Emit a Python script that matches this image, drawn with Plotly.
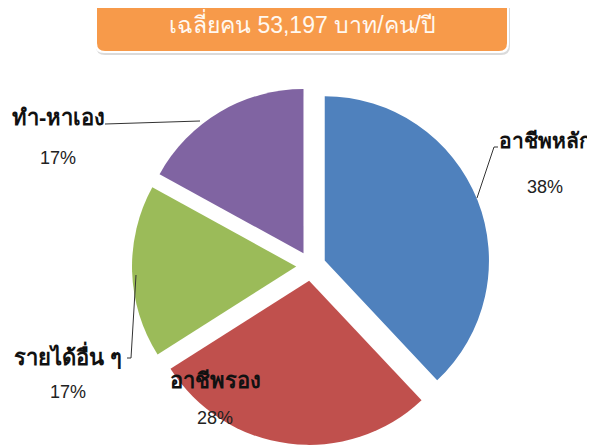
import plotly.graph_objects as go

categories = ["อาชีพหลัก", "อาชีพรอง", "รายได้อื่น ๆ", "ทำ-หาเอง"]
values = [38, 28, 17, 17]
colors = ["#4F81BD", "#C0504D", "#9BBB59", "#8064A2"]
title_text = "เฉลี่ยคน 53,197 บาท/คน/ปี"

W, H = 595, 445
OFF = 8  # page body margin
FONT = "Liberation Sans, Arial, Noto Sans, DejaVu Sans, sans-serif"

def px(x):
    return (x - OFF) / W

def py(y):
    return 1 - (y - OFF) / H

fig = go.Figure()
fig.add_trace(go.Pie(
    labels=categories,
    values=values,
    sort=False,
    direction="clockwise",
    rotation=0,
    pull=[0.09] * len(values),
    marker=dict(colors=colors, line=dict(width=0)),
    textinfo="none",
    hoverinfo="label+percent",
    showlegend=False,
    domain=dict(x=[px(131), px(491)], y=[py(445), py(87)]),
))

# label positions (pixel centres) for name and percent
label_pos = [(545, 140, 187), (215, 380, 418), (68, 355, 392), (58, 118, 158)]
label_size = [21, 22, 22, 22]
annotations = []
for cat, v, (lx, ly, pyy), fs in zip(categories, values, label_pos, label_size):
    annotations.append(dict(x=px(lx), y=py(ly), xref="paper", yref="paper",
                            text=f"<b>{cat}</b>", showarrow=False,
                            font=dict(family=FONT, size=fs, color="#111111"),
                            xanchor="center", yanchor="middle"))
    annotations.append(dict(x=px(lx), y=py(pyy), xref="paper", yref="paper",
                            text=f"{v}%", showarrow=False,
                            font=dict(family=FONT, size=18, color="#222222"),
                            xanchor="center", yanchor="middle"))

annotations.append(dict(x=px(302), y=py(24), xref="paper", yref="paper",
                        text=title_text, showarrow=False,
                        font=dict(family=FONT, size=23, color="#FFF8F0"),
                        xanchor="center", yanchor="middle"))

def rrect(x0, y0, x1, y1, r):
    X0, X1 = px(x0), px(x1)
    Y0, Y1 = py(y0), py(y1)
    rx, ry = r / W, r / H
    return (f"M {X0+rx},{Y0} L {X1-rx},{Y0} Q {X1},{Y0} {X1},{Y0-ry} "
            f"L {X1},{Y1+ry} Q {X1},{Y1} {X1-rx},{Y1} "
            f"L {X0+rx},{Y1} Q {X0},{Y1} {X0},{Y1+ry} "
            f"L {X0},{Y0-ry} Q {X0},{Y0} {X0+rx},{Y0} Z")

shapes = [
    dict(type="path", xref="paper", yref="paper", path=rrect(96, -8, 510, 55, 9),
         fillcolor="#DADADA", line=dict(width=0), layer="below"),
    dict(type="path", xref="paper", yref="paper", path=rrect(95, -10, 509, 53, 9),
         fillcolor="#FFFFFF", line=dict(width=0), layer="below"),
    dict(type="path", xref="paper", yref="paper", path=rrect(97, -10, 507, 51, 8),
         fillcolor="#F79A4A", line=dict(width=0), layer="below"),
]

leader = dict(color="#333333", width=1)
lines = [
    [(477, 198), (494, 147), (498, 147)],
    [(136, 275), (131, 358), (127, 358)],
    [(105, 124), (200, 121)],
]
for pts in lines:
    path = "M " + " L ".join(f"{px(x)},{py(y)}" for x, y in pts)
    shapes.append(dict(type="path", xref="paper", yref="paper", path=path, line=leader))

fig.update_layout(
    width=W, height=H,
    margin=dict(l=0, r=0, t=0, b=0),
    paper_bgcolor="white",
    plot_bgcolor="white",
    annotations=annotations,
    shapes=shapes,
)

fig.write_html("out.html")
